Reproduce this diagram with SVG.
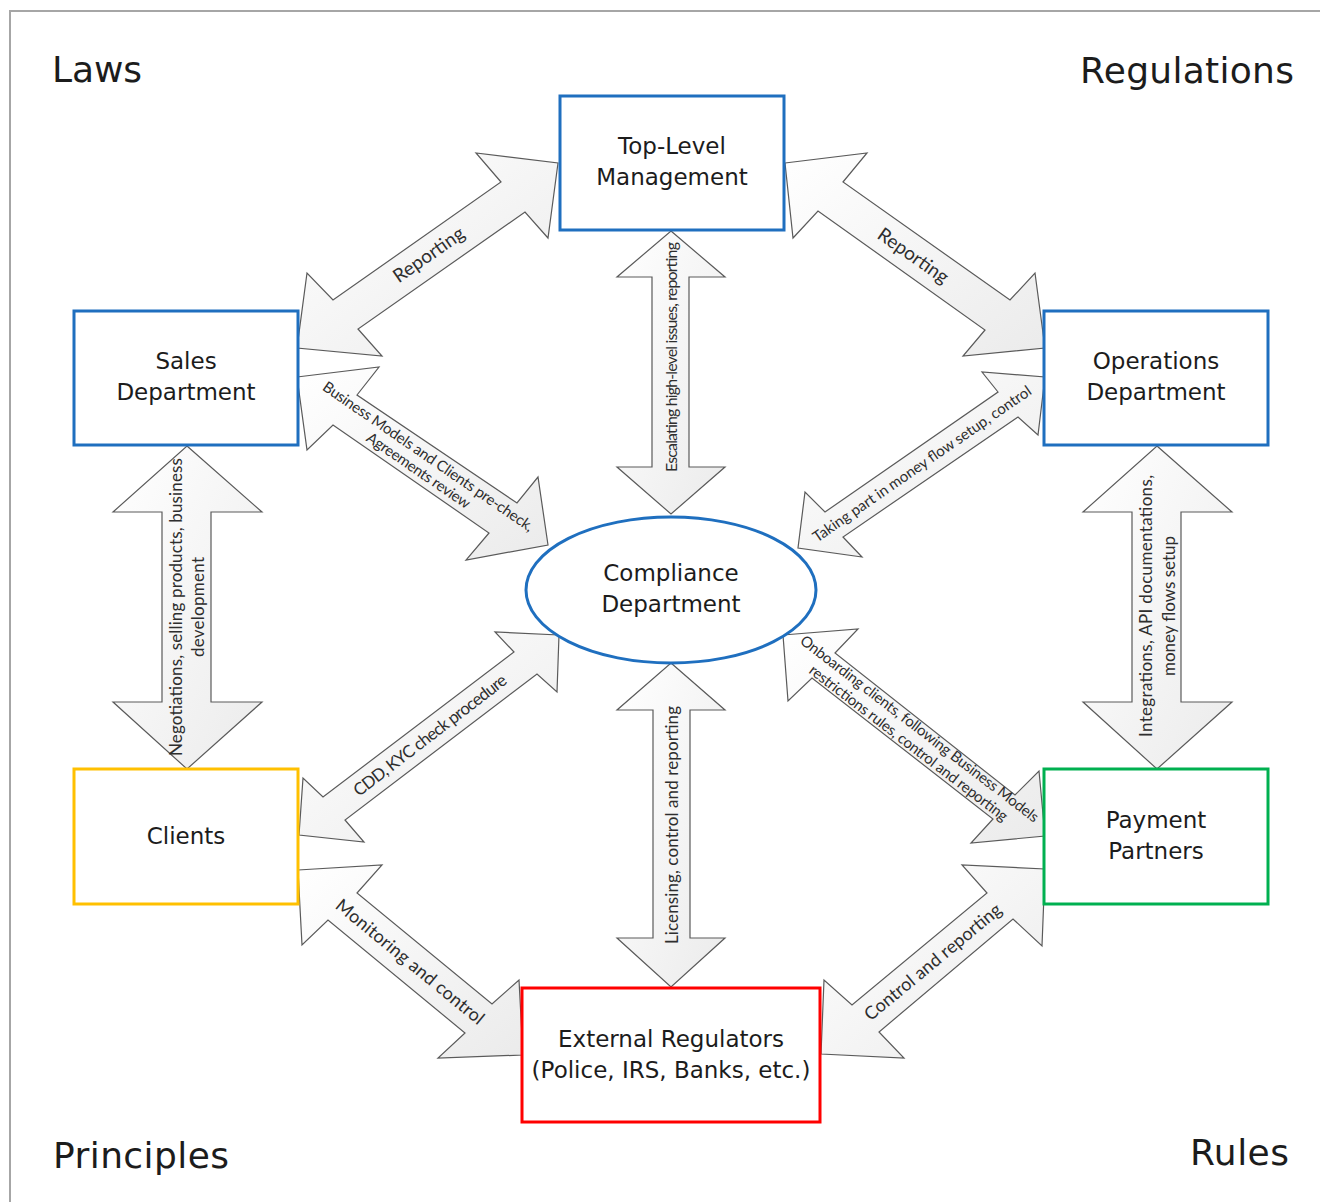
<svg xmlns="http://www.w3.org/2000/svg" width="1320" height="1202" viewBox="0 0 1320 1202">
<defs>
<linearGradient id="g" x1="0" y1="0" x2="1" y2="1">
<stop offset="0" stop-color="#ffffff"/>
<stop offset="1" stop-color="#ebebeb"/>
</linearGradient>
</defs>
<style>
.arr{fill:url(#g);stroke:#5a5a5a;stroke-width:1.2;stroke-linejoin:miter}
.nd{fill:#ffffff;stroke-width:3}
.nt{font-family:"DejaVu Sans",Verdana,sans-serif;font-size:23px;fill:#1c1c1c;text-anchor:middle}
.ct{font-family:"DejaVu Sans",Verdana,sans-serif;font-size:36px;fill:#1c1c1c}
.lb{font-family:Lato,"Open Sans",sans-serif;fill:#2e2e2e;text-anchor:middle}
</style>
<rect width="1320" height="1202" fill="#ffffff"/>
<path d="M10 1202 V11 H1320" fill="none" stroke="#a6a6a6" stroke-width="2"/>

<text class="ct" x="52" y="82" textLength="90">Laws</text>
<text class="ct" x="1080" y="83" textLength="214">Regulations</text>
<text class="ct" x="53" y="1168" textLength="176">Principles</text>
<text class="ct" x="1190" y="1165" textLength="99">Rules</text>

<g id="connectors">
<polygon class="arr" points="558,163 548,238 525,212 358,329 382,356 297,348 307,273 333,300 501,182 476,153"/>
<polygon class="arr" points="785,163 867,153 843,182 1010,300 1035,273 1045,348 963,356 985,330 818,211 793,238"/>
<polygon class="arr" points="297,377 379,367 357,395 517,503 538,477 548,545 466,560 489,533 333,425 307,450"/>
<polygon class="arr" points="1045,377 1038,435 1018,417 843,537 862,557 798,548 805,492 825,512 998,392 982,372"/>
<polygon class="arr" points="559,635 557,692 537,674 345,820 364,842 299,835 303,778 323,797 514,652 495,632"/>
<polygon class="arr" points="783,635 858,629 835,653 1015,795 1039,771 1045,836 971,843 993,819 812,678 788,701"/>
<polygon class="arr" points="298,870 382,865 357,893 492,1004 519,980 523,1055 438,1058 465,1033 328,920 302,945"/>
<polygon class="arr" points="1045,869 1042,946 1013,919 879,1032 904,1058 821,1054 824,980 852,1005 987,893 962,865"/>
<polygon class="arr" points="671,231 725,277 689,277 689,467 725,467 671,514 617,467 652,467 652,277 617,277"/>
<polygon class="arr" points="671,663 725,710 690,710 690,938 725,938 671,987 617,938 653,938 653,710 617,710"/>
<polygon class="arr" points="187,446 262,512 211,512 211,702 262,702 187,769 113,702 162,702 162,512 113,512"/>
<polygon class="arr" points="1157,446 1232,512 1181,512 1181,702 1232,702 1157,769 1083,702 1132,702 1132,512 1083,512"/>

<g transform="translate(429,255) rotate(-35)"><text class="lb" font-size="19" y="6" textLength="82">Reporting</text></g>
<g transform="translate(913,256) rotate(35)"><text class="lb" font-size="19" y="6" textLength="82">Reporting</text></g>
<g transform="translate(423,464) rotate(34.5)">
<text class="lb" font-size="15" y="-4" textLength="252">Business Models and  Clients pre-check,</text>
<text class="lb" font-size="15" y="13" textLength="122">Agreements review</text>
</g>
<g transform="translate(922,464) rotate(-34.7)"><text class="lb" font-size="15" y="5" textLength="262">Taking part in money flow setup, control</text></g>
<g transform="translate(430,735) rotate(-37.5)"><text class="lb" font-size="17" y="6" textLength="188">CDD, KYC check procedure</text></g>
<g transform="translate(914,736) rotate(37.5)">
<text class="lb" font-size="15" y="-4" textLength="296">Onboarding clients, following Business Models</text>
<text class="lb" font-size="15" y="14" textLength="246">restrictions rules, control and reporting</text>
</g>
<g transform="translate(410,962) rotate(39.4)"><text class="lb" font-size="18" y="6" textLength="186">Monitoring and control</text></g>
<g transform="translate(933,962) rotate(-39.6)"><text class="lb" font-size="18" y="6" textLength="172">Control and reporting</text></g>
<g transform="translate(672,357) rotate(-90)"><text class="lb" font-size="16" y="5" textLength="230">Escalating high-level issues, reporting</text></g>
<g transform="translate(672,825) rotate(-90)"><text class="lb" font-size="17" y="6" textLength="238">Licensing, control and reporting</text></g>
<g transform="translate(187,607) rotate(-90)">
<text class="lb" font-size="17" y="-5" textLength="298">Negotiations, selling products, business</text>
<text class="lb" font-size="17" y="17" textLength="100">development</text>
</g>
<g transform="translate(1158,606) rotate(-90)">
<text class="lb" font-size="17" y="-6" textLength="262">Integrations, API documentations,</text>
<text class="lb" font-size="17" y="17" textLength="140">money flows setup</text>
</g>
</g>

<g id="top-management">
<rect class="nd" x="560" y="96" width="224" height="134" stroke="#1f6fbf"/>
<text class="nt" x="672" y="154">Top-Level</text>
<text class="nt" x="672" y="185">Management</text>
</g>
<g id="sales">
<rect class="nd" x="74" y="311" width="224" height="134" stroke="#1f6fbf"/>
<text class="nt" x="186" y="369">Sales</text>
<text class="nt" x="186" y="400">Department</text>
</g>
<g id="operations">
<rect class="nd" x="1044" y="311" width="224" height="134" stroke="#1f6fbf"/>
<text class="nt" x="1156" y="369">Operations</text>
<text class="nt" x="1156" y="400">Department</text>
</g>
<g id="compliance">
<ellipse class="nd" cx="671" cy="590" rx="145" ry="73" stroke="#1f6fbf"/>
<text class="nt" x="671" y="581">Compliance</text>
<text class="nt" x="671" y="612">Department</text>
</g>
<g id="clients">
<rect class="nd" x="74" y="769" width="224" height="135" stroke="#ffc000"/>
<text class="nt" x="186" y="844">Clients</text>
</g>
<g id="payment-partners">
<rect class="nd" x="1044" y="769" width="224" height="135" stroke="#00b050"/>
<text class="nt" x="1156" y="828">Payment</text>
<text class="nt" x="1156" y="859">Partners</text>
</g>
<g id="external-regulators">
<rect class="nd" x="522" y="988" width="298" height="134" stroke="#ff0000"/>
<text class="nt" x="671" y="1047">External Regulators</text>
<text class="nt" x="671" y="1078">(Police, IRS, Banks, etc.)</text>
</g>
</svg>
